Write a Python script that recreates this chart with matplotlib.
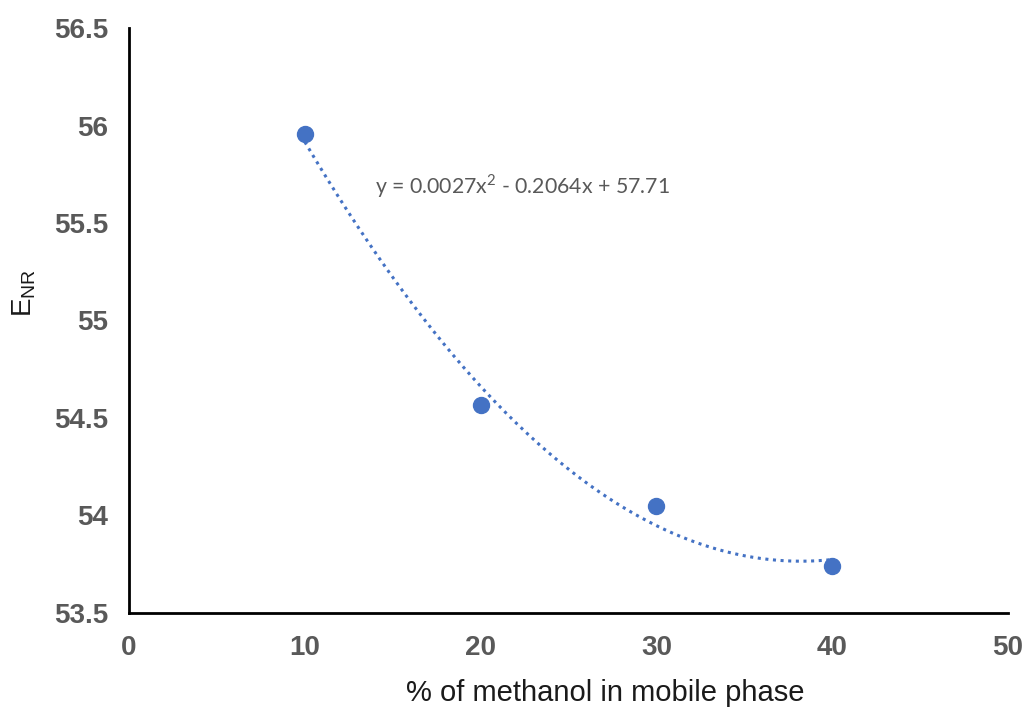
import numpy as np
import matplotlib.pyplot as plt

methanol = [10, 20, 30, 40]
e_nr = [55.956, 54.567, 54.049, 53.741]

# polynomial trendline coefficients (order 2), as shown on the chart
coef_a, coef_b, coef_c = 0.0027, -0.2064, 57.71

x_ticks = [0, 10, 20, 30, 40, 50]
y_ticks = [53.5, 54, 54.5, 55, 55.5, 56, 56.5]

fig = plt.figure(figsize=(10.29, 7.13), dpi=100)
ax = fig.add_axes([0.1254, 0.1403, 0.8542, 0.8204])

xs = np.linspace(min(methanol), max(methanol), 200)
ax.plot(xs, coef_a * xs**2 + coef_b * xs + coef_c, color='#4472C4',
        linestyle=(0, (1, 1.5)), linewidth=2.2, zorder=2)
ax.plot(methanol, e_nr, 'o', color='#4472C4', markersize=11.5, zorder=3)

ax.set_xlim(0, 50)
ax.set_ylim(53.5, 56.5)
ax.set_xticks(x_ticks)
ax.set_yticks(y_ticks)
ax.set_xticklabels([str(t) for t in x_ticks])
ax.set_yticklabels(['53.5', '54', '54.5', '55', '55.5', '56', '56.5'])

for side in ['top', 'right']:
    ax.spines[side].set_visible(False)
for side in ['left', 'bottom']:
    ax.spines[side].set_linewidth(2.0)
    ax.spines[side].set_color('black')

ax.tick_params(length=0, labelsize=20, labelcolor='#595959')
ax.tick_params(axis='y', pad=15)
ax.tick_params(axis='x', pad=16)
for lbl in ax.get_xticklabels() + ax.get_yticklabels():
    lbl.set_fontfamily('Liberation Sans')
    lbl.set_fontweight('bold')

ax.set_xlabel('% of methanol in mobile phase', fontsize=21,
              family='Liberation Sans', color='#1a1a1a', va='center')
ax.xaxis.set_label_coords(0.5415, -0.137)
ax.set_ylabel(r'E$_{\mathregular{NR}}$', fontsize=20,
              family='Liberation Sans', color='#1a1a1a', va='center')
ax.yaxis.set_label_coords(-0.119, 0.547)

ax.text(14.0, 55.69, 'y = 0.0027x$^{\\mathregular{2}}$ - 0.2064x + 57.71',
        fontsize=15.3, family='Lato', color='#595959', va='center')

fig.savefig('out.png', dpi=100)
